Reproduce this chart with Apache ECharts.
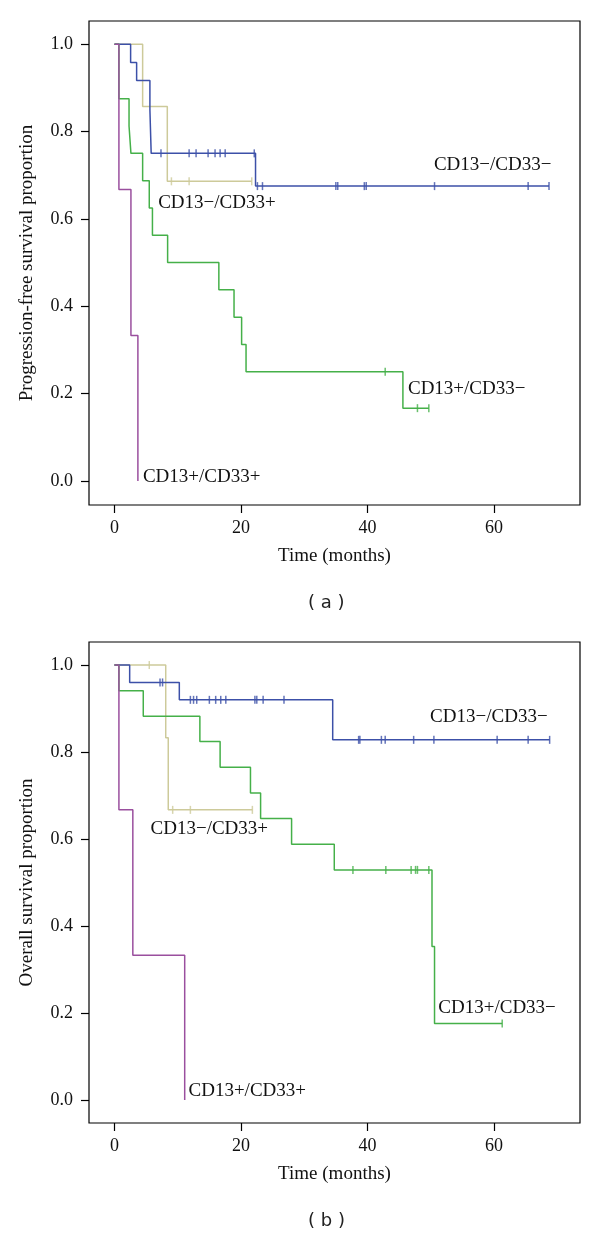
<!DOCTYPE html>
<html>
<head>
<meta charset="utf-8">
<script src="https://cdn.jsdelivr.net/npm/echarts@6/dist/echarts.min.js"></script>
<style>
  html, body { margin: 0; padding: 0; background: #fff; }
  #chart { width: 600px; height: 1238px; }
</style>
</head>
<body>
<div id="chart"></div>
<script>
// Kaplan-Meier step points [months, proportion]
// panel (a) progression-free survival
var pfsNegNeg = [[0, 1], [2.55, 0.958], [3.5, 0.917], [5.6, 0.85], [5.8, 0.75], [22.3, 0.675], [68.7, 0.675]];
var pfsNegPos = [[0, 1], [4.45, 0.857], [8.35, 0.686], [21.7, 0.686]];
var pfsPosNeg = [[0, 1], [0.7, 0.875], [2.3, 0.8125], [2.6, 0.75], [4.45, 0.6875], [5.5, 0.625], [6.0, 0.5625],
  [8.4, 0.5], [16.5, 0.4375], [18.9, 0.375], [20.1, 0.3125], [20.8, 0.25], [45.6, 0.1667], [49.7, 0.1667]];
var pfsPosPos = [[0, 1], [0.7, 0.667], [2.6, 0.333], [3.7, 0]];
// censor marks
var pfsNegNegCens = [[7.35, 0.75], [11.8, 0.75], [12.9, 0.75], [14.8, 0.75], [15.9, 0.75], [16.7, 0.75], [17.5, 0.75], [22.1, 0.75],
  [22.6, 0.675], [23.4, 0.675], [35.0, 0.675], [35.3, 0.675], [39.5, 0.675], [39.8, 0.675], [50.6, 0.675], [65.4, 0.675], [68.7, 0.675]];
var pfsNegPosCens = [[9.0, 0.686], [11.8, 0.686], [21.7, 0.686]];
var pfsPosNegCens = [[42.8, 0.25], [47.9, 0.1667], [49.7, 0.1667]];

// panel (b) overall survival
var osNegNeg = [[0, 1], [2.4, 0.96], [10.25, 0.92], [34.5, 0.828], [68.8, 0.828]];
var osNegPos = [[0, 1], [8.1, 0.833], [8.5, 0.667], [21.8, 0.667]];
var osPosNeg = [[0, 1], [0.7, 0.941], [4.55, 0.882], [13.5, 0.824], [16.7, 0.765], [21.5, 0.706], [23.1, 0.647],
  [28.0, 0.588], [34.75, 0.529], [50.2, 0.353], [50.6, 0.176], [61.3, 0.176]];
var osPosPos = [[0, 1], [0.7, 0.667], [2.9, 0.333], [11.1, 0]];
var osNegNegCens = [[7.2, 0.96], [7.6, 0.96],
  [12.0, 0.92], [12.5, 0.92], [13.0, 0.92], [15.0, 0.92], [16.0, 0.92], [16.8, 0.92], [17.6, 0.92], [22.2, 0.92], [22.5, 0.92], [23.5, 0.92], [26.8, 0.92],
  [38.6, 0.828], [38.8, 0.828], [42.2, 0.828], [42.8, 0.828], [47.3, 0.828], [50.5, 0.828], [60.5, 0.828], [65.4, 0.828], [68.8, 0.828]];
var osNegPosCens = [[5.5, 1], [9.2, 0.667], [12.0, 0.667], [21.8, 0.667]];
var osPosNegCens = [[37.7, 0.529], [42.9, 0.529], [46.9, 0.529], [47.6, 0.529], [47.9, 0.529], [49.7, 0.529], [61.3, 0.176]];

var groupNames = ["CD13\u2212/CD33\u2212", "CD13\u2212/CD33+", "CD13+/CD33\u2212", "CD13+/CD33+"];
var groupColors = ["#3c50a8", "#cdca9a", "#45b049", "#9a4f9e"];
// where each group's name sits, [months, proportion], per panel
var labelPosA = [[50.5, 0.719], [6.9, 0.633], [46.4, 0.208], [4.5, 0.005]];
var labelPosB = [[49.9, 0.876], [5.7, 0.619], [51.2, 0.207], [11.7, 0.016]];

var xTicks = [0, 20, 40, 60];
var yTicks = [0, 0.2, 0.4, 0.6, 0.8, 1.0];

var serif = "'Liberation Serif', 'DejaVu Serif', serif";
var myChart = echarts.init(document.getElementById("chart"));

function xAx(grid) {
  return {
    type: "value", gridIndex: grid, min: -4.03, max: 73.6,
    name: "Time (months)", nameLocation: "middle", nameGap: 42,
    nameTextStyle: { fontFamily: serif, fontSize: 19, color: "#111" },
    axisLine: { show: false, onZero: false }, splitLine: { show: false },
    axisTick: { show: true, inside: false, length: 8, customValues: xTicks, lineStyle: { color: "#000", width: 1.2 } },
    axisLabel: { customValues: xTicks, margin: 14, fontFamily: serif, fontSize: 18, color: "#111" }
  };
}
function yAx(grid, title, mn, mx) {
  return {
    type: "value", gridIndex: grid, min: mn, max: mx,
    name: title, nameLocation: "middle", nameGap: 52,
    nameTextStyle: { fontFamily: serif, fontSize: 19, color: "#111" },
    axisLine: { show: false, onZero: false }, splitLine: { show: false },
    axisTick: { show: true, inside: false, length: 8, customValues: yTicks, lineStyle: { color: "#000", width: 1.2 } },
    axisLabel: { customValues: yTicks, margin: 16, fontFamily: serif, fontSize: 18, color: "#111",
      formatter: function(v) { return v.toFixed(1); } }
  };
}
function curve(data, color, grid) {
  return { type: "line", step: "end", data: data, xAxisIndex: grid, yAxisIndex: grid,
    symbol: "none", lineStyle: { color: color, width: 1.5 }, animation: false, silent: true };
}
function cens(data, color, grid) {
  return { type: "scatter", data: data, xAxisIndex: grid, yAxisIndex: grid,
    symbol: "rect", symbolSize: [1.5, 8], itemStyle: { color: color }, animation: false, silent: true };
}

var option = {
  backgroundColor: "#fff",
  grid: [
    { left: 89, top: 21, width: 491, height: 484, show: true, borderColor: "#000", borderWidth: 1.2, backgroundColor: "transparent" },
    { left: 89, top: 642, width: 491, height: 481, show: true, borderColor: "#000", borderWidth: 1.2, backgroundColor: "transparent" }
  ],
  xAxis: [xAx(0), xAx(1)],
  yAxis: [yAx(0, "Progression-free survival proportion", -0.055, 1.053), yAx(1, "Overall survival proportion", -0.053, 1.053)],
  series: [
    curve(pfsNegPos, groupColors[1], 0),
    curve(pfsNegNeg, groupColors[0], 0),
    curve(pfsPosNeg, groupColors[2], 0),
    curve(pfsPosPos, groupColors[3], 0),
    cens(pfsNegPosCens, groupColors[1], 0),
    cens(pfsNegNegCens, groupColors[0], 0),
    cens(pfsPosNegCens, groupColors[2], 0),
    curve(osNegPos, groupColors[1], 1),
    curve(osNegNeg, groupColors[0], 1),
    curve(osPosNeg, groupColors[2], 1),
    curve(osPosPos, groupColors[3], 1),
    cens(osNegPosCens, groupColors[1], 1),
    cens(osNegNegCens, groupColors[0], 1),
    cens(osPosNegCens, groupColors[2], 1)
  ]
};
myChart.setOption(option);

// group names and panel captions placed from data coordinates
var texts = [];
[labelPosA, labelPosB].forEach(function(posList, g) {
  posList.forEach(function(p, i) {
    var px = myChart.convertToPixel({ gridIndex: g }, p);
    texts.push({
      type: "text", left: px[0], top: px[1] - 11,
      style: { text: groupNames[i], fontFamily: serif, fontSize: 19, fill: "#111" }
    });
  });
});
texts.push({ type: "text", left: 308, top: 594, style: { text: "( a )", fontFamily: "'DejaVu Sans', sans-serif", fontSize: 18, fill: "#222" } });
texts.push({ type: "text", left: 308, top: 1212, style: { text: "( b )", fontFamily: "'DejaVu Sans', sans-serif", fontSize: 18, fill: "#222" } });
myChart.setOption({ graphic: texts });
</script>
</body>
</html>
